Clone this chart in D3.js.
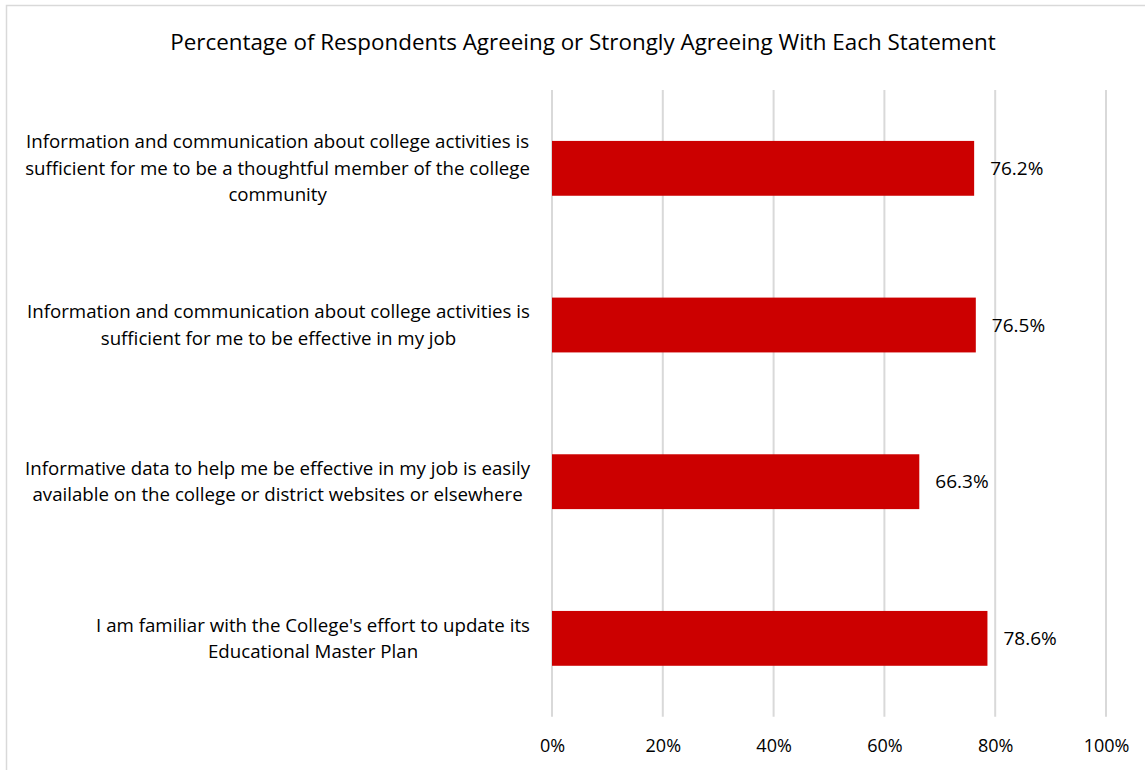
<!DOCTYPE html>
<html>
<head>
<meta charset="utf-8">
<script src="https://cdn.jsdelivr.net/npm/d3@7"></script>
<style>
  html, body { margin: 0; padding: 0; background: #fff; }
  svg { display: block; font-family: "Open Sans", sans-serif; }
</style>
</head>
<body>
<svg id="chart" width="1145" height="770"></svg>
<script>
// Survey statements (top to bottom) and share agreeing / strongly agreeing
const statements = [
  ["Information and communication about college activities is", "sufficient for me to be a thoughtful member of the college", "community"],
  ["Information and communication about college activities is", "sufficient for me to be effective in my job"],
  ["Informative data to help me be effective in my job is easily", "available on the college or district websites or elsewhere"],
  ["I am familiar with the College's effort to update its", "Educational Master Plan"]
];
const agreePct = [76.2, 76.5, 66.3, 78.6];
const tickValues = [0, 20, 40, 60, 80, 100];
const chartTitle = "Percentage of Respondents Agreeing or Strongly Agreeing With Each Statement";

const svg = d3.select("#chart");
const W = 1145, H = 770;
const plot = { left: 552, right: 1106, top: 90, bottom: 716.7 };
const catFont = 18.7, valueFont = 19, tickFont = 18;

// outer chart frame
svg.append("rect")
  .attr("x", 6.5).attr("y", 5.5)
  .attr("width", W + 20).attr("height", H + 20)
  .attr("fill", "#fff").attr("stroke", "#d9d9d9").attr("stroke-width", 1.5);

svg.append("text")
  .attr("x", 583).attr("y", 50)
  .attr("text-anchor", "middle")
  .attr("font-size", 22.4)
  .attr("fill", "#000")
  .text(chartTitle);

const x = d3.scaleLinear().domain([0, 100]).range([plot.left, plot.right]);
const idx = d3.range(agreePct.length);
const y = d3.scaleBand().domain(idx)
  .range([plot.top, plot.bottom])
  .paddingInner(0.65).paddingOuter(0.325);

// vertical gridlines
svg.append("g")
  .selectAll("line")
  .data(tickValues)
  .join("line")
  .attr("x1", d => x(d)).attr("x2", d => x(d))
  .attr("y1", plot.top).attr("y2", plot.bottom)
  .attr("stroke", "#d9d9d9").attr("stroke-width", 2);

// x axis labels
const xAxis = d3.axisBottom(x).tickValues(tickValues).tickFormat(d => d + "%").tickSize(0).tickPadding(0);
const gx = svg.append("g").attr("transform", `translate(0, ${plot.bottom})`).call(xAxis);
gx.select(".domain").remove();
gx.selectAll("text")
  .attr("dy", null)
  .attr("y", 35)
  .attr("font-family", "Open Sans, sans-serif")
  .attr("font-size", tickFont)
  .attr("fill", "#000");

// bars
svg.append("g")
  .selectAll("rect")
  .data(idx)
  .join("rect")
  .attr("x", x(0))
  .attr("y", i => y(i))
  .attr("width", i => x(agreePct[i]) - x(0))
  .attr("height", y.bandwidth())
  .attr("fill", "#cc0000");

// value labels
svg.append("g")
  .selectAll("text")
  .data(idx)
  .join("text")
  .attr("x", i => x(agreePct[i]) + 16)
  .attr("y", i => y(i) + y.bandwidth() / 2)
  .attr("dy", "0.35em")
  .attr("font-size", valueFont)
  .attr("fill", "#000")
  .text(i => agreePct[i].toFixed(1) + "%");

// category labels: lines centred within a block right-aligned to the plot
const lineH = 26.5;
const labelRight = 530;
const cat = svg.append("g");
idx.forEach(i => {
  const lines = statements[i];
  const t = cat.append("text")
    .attr("font-size", catFont)
    .attr("fill", "#000")
    .attr("text-anchor", "middle");
  const spans = lines.map(s => t.append("tspan").text(s));
  const maxW = d3.max(spans, s => s.node().getComputedTextLength());
  const cx = labelRight - maxW / 2;
  const cy = y(i) + y.bandwidth() / 2;
  const y0 = cy - (lines.length - 1) * lineH / 2;
  spans.forEach((s, k) => s.attr("x", cx).attr("y", y0 + k * lineH).attr("dy", "0.35em"));
});
</script>
</body>
</html>
